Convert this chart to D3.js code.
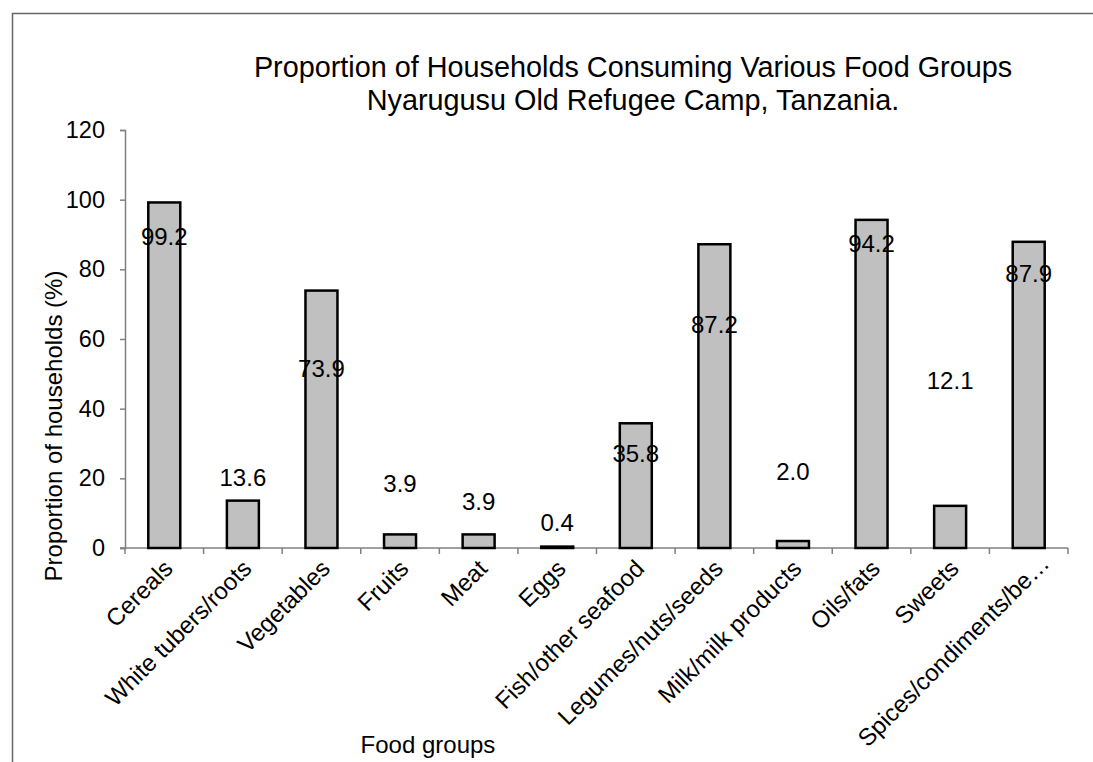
<!DOCTYPE html>
<html><head><meta charset="utf-8">
<script src="https://cdn.jsdelivr.net/npm/d3@7"></script>
<style>
html,body{margin:0;padding:0;background:#fff;}
svg{display:block;font-family:"Liberation Sans",Arial,sans-serif;}
</style></head>
<body>
<svg id="chart" width="1093" height="762"></svg>
<script>
const categories = ["Cereals","White tubers/roots","Vegetables","Fruits","Meat","Eggs","Fish/other seafood","Legumes/nuts/seeds","Milk/milk products","Oils/fats","Sweets","Spices/condiments/be\u2026"];
const values = [99.2,13.6,73.9,3.9,3.9,0.4,35.8,87.2,2.0,94.2,12.1,87.9];
const labelAnchor = [89.3,20.1,51.4,18.4,13.2,7.2,27.0,64.0,21.8,87.3,48.2,78.7];
const yTicks = [0,20,40,60,80,100,120];
const titleLines = ["Proportion of Households Consuming Various Food Groups","Nyarugusu Old Refugee Camp, Tanzania."];

const svg = d3.select("#chart");
svg.append("rect").attr("x",12.5).attr("y",13.5).attr("width",1200).attr("height",900)
  .attr("fill","none").attr("stroke","#666").attr("stroke-width",1.5);

const x = d3.scaleBand().domain(categories).range([125,1068]).paddingInner(0.593).paddingOuter(0.2965);
const y = d3.scaleLinear().domain([0,120]).range([548,130]);

// title
svg.append("g").selectAll("text").data(titleLines).join("text")
  .attr("x",633).attr("y",(d,i)=>77+i*33).attr("text-anchor","middle")
  .attr("font-size",28.8).attr("fill","#000").text(d=>d);

// y axis
const yAxis = svg.append("g").attr("transform","translate(125,0)")
  .call(d3.axisLeft(y).tickValues(yTicks).tickSize(5).tickPadding(15));
yAxis.select(".domain").attr("stroke","#808080").attr("stroke-width",1.5);
yAxis.selectAll(".tick line").attr("stroke","#808080").attr("stroke-width",1.5);
yAxis.selectAll(".tick text").attr("font-size",23.5).attr("fill","#000").attr("font-family","Liberation Sans, Arial, sans-serif");

// x axis line & ticks at band boundaries
const step = x.step();
const bounds = d3.range(categories.length+1).map(i=>125+i*step);
svg.append("line").attr("x1",120).attr("x2",1068).attr("y1",548).attr("y2",548)
  .attr("stroke","#808080").attr("stroke-width",1.5);
svg.append("g").selectAll("line").data(bounds).join("line")
  .attr("x1",d=>d).attr("x2",d=>d).attr("y1",548).attr("y2",554)
  .attr("stroke","#808080").attr("stroke-width",1.5);

// bars
svg.append("g").selectAll("rect").data(values).join("rect")
  .attr("x",(d,i)=>x(categories[i])).attr("width",x.bandwidth())
  .attr("y",d=>y(d)).attr("height",d=>y(0)-y(d))
  .attr("fill","#c0c0c0").attr("stroke","#000").attr("stroke-width",2.5);

// value labels
svg.append("g").selectAll("text").data(values).join("text")
  .attr("x",(d,i)=>x(categories[i])+x.bandwidth()/2)
  .attr("y",(d,i)=>y(labelAnchor[i])).attr("dy","0.35em")
  .attr("text-anchor","middle").attr("font-size",24).attr("fill","#000")
  .text(d=>d.toFixed(1));

// x labels (truncated labels sit slightly further along the diagonal)
svg.append("g").selectAll("text").data(categories).join("text")
  .attr("transform",d=>{
    const t = d.endsWith("\u2026");
    return `translate(${x(d)+x.bandwidth()/2+10+(t?12:0)},${570-(t?5:0)}) rotate(-45)`;
  })
  .attr("text-anchor","end").attr("font-size",24).attr("fill","#000").text(d=>d);

// axis titles
svg.append("text").attr("x",428).attr("y",753).attr("text-anchor","middle")
  .attr("font-size",24).attr("fill","#000").text("Food groups");
svg.append("text").attr("transform","translate(62,426) rotate(-90)")
  .attr("text-anchor","middle").attr("font-size",24).attr("fill","#000")
  .text("Proportion of households (%)");
</script>
</body></html>
